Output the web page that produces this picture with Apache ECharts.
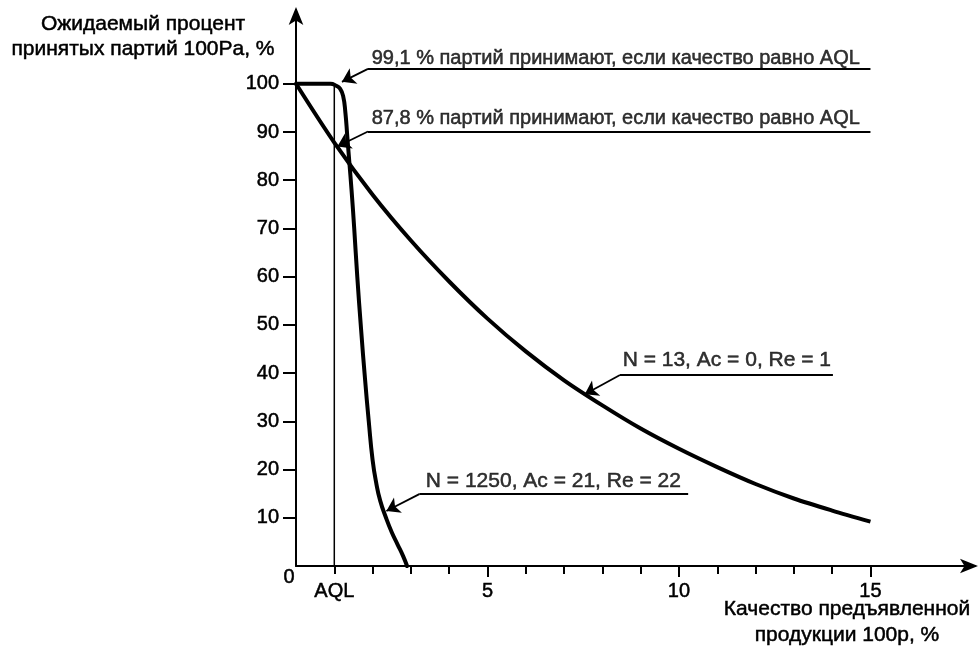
<!DOCTYPE html>
<html>
<head>
<meta charset="utf-8">
<script src="https://cdn.jsdelivr.net/npm/echarts@6/dist/echarts.min.js"></script>
<style>html,body{margin:0;padding:0;background:#fff}#c{width:979px;height:651px}</style>
</head>
<body>
<div id="c"></div>
<script>
// ---- data ----
const curve13X = [0, 1, 2, 3, 4, 5, 6, 7, 8, 9, 10, 11, 12, 13, 14, 15];
const curve13Y = [100, 87.8, 77, 67.5, 59, 51.3, 44.5, 38.5, 33.3, 28.5, 24.3, 20.5, 17, 14, 11.5, 9.2];
const curve1250X = [0, 0.9, 1.05, 1.15, 1.23, 1.29, 1.34, 1.39, 1.45, 1.52, 1.6, 1.7, 1.8, 1.9, 2.0, 2.1, 2.2, 2.35, 2.5, 2.65, 2.8, 2.9];
const curve1250Y = [100, 100, 99.6, 99, 97.5, 94, 89, 84, 78, 70, 60, 49, 39, 30, 22, 17, 13.5, 10, 7, 4.5, 2, 0];
const aqlValue = 1;
const xMajorTicks = [5, 10, 15];
const xMinorTicks = [1, 2, 3, 4, 6, 7, 8, 9, 11, 12, 13, 14];
const xLabelValues = [1, 5, 10, 15];
const yTickValues = [10, 20, 30, 40, 50, 60, 70, 80, 90, 100];
const annotTexts = [
  '99,1 % партий принимают, если качество равно AQL',
  '87,8 % партий принимают, если качество равно AQL',
  'N = 13, Ac = 0, Re = 1',
  'N = 1250, Ac = 21, Re = 22'
];
// leader lines in data units: horizontal part [right end, knee], then pointer [knee, arrow tip]
const annotRight = [[15.0, 103.1], [15.0, 90.1], [14.02, 39.6], [10.24, 14.9]];
const annotKnee = [[1.88, 103.1], [1.88, 90.1], [8.46, 39.6], [3.22, 14.9]];
const annotTip = [[1.2, 100.4], [1.08, 87.0], [7.54, 35.6], [2.36, 11.4]];
const annotTextPos = [[8.35, 105.3], [8.35, 92.9], [11.25, 42.7], [6.72, 17.6]];
const yTitle = 'Ожидаемый процент\nпринятых партий 100Pa, %';
const xTitle = 'Качество предъявленной\nпродукции 100р, %';

const FONT = 'Liberation Sans, Arial, Helvetica, sans-serif';
const INK = '#000';
const HEAVY = {textBorderColor: '#000', textBorderWidth: 0.5};

const chart = echarts.init(document.getElementById('c'), null, {renderer: 'canvas'});
const zip = (xs, ys) => xs.map((x, i) => [x, ys[i]]);

const option = {
  backgroundColor: '#fff',
  animation: false,
  grid: {left: 296, right: 4, top: 10, bottom: 85, containLabel: false},
  xAxis: [{
    type: 'value', min: 0, max: 17.73, position: 'bottom',
    splitLine: {show: false},
    axisLine: {show: true, lineStyle: {color: INK, width: 2}, symbol: ['none', 'arrow'], symbolSize: [11, 18], symbolOffset: [0, 3]},
    axisTick: {show: true, customValues: xMajorTicks, length: 11, inside: false, lineStyle: {color: INK, width: 2}},
    axisLabel: Object.assign({show: true, customValues: xLabelValues, margin: 15, fontSize: 20, fontFamily: FONT, color: INK,
      formatter: v => (v === aqlValue ? 'AQL' : String(v))}, HEAVY)
  }, {
    type: 'value', min: 0, max: 17.73, position: 'bottom',
    splitLine: {show: false},
    axisLine: {show: false},
    axisTick: {show: true, customValues: xMinorTicks, length: 8, inside: false, lineStyle: {color: INK, width: 2}},
    axisLabel: {show: false}
  }],
  yAxis: [{
    type: 'value', min: 0, max: 115.3,
    splitLine: {show: false},
    axisLine: {show: true, lineStyle: {color: INK, width: 2}, symbol: ['none', 'arrow'], symbolSize: [11, 18], symbolOffset: [0, 3]},
    axisTick: {show: true, customValues: yTickValues, length: 13, lineStyle: {color: INK, width: 2}},
    axisLabel: Object.assign({show: true, customValues: yTickValues, margin: 17, fontSize: 20, fontFamily: FONT, color: INK}, HEAVY)
  }],
  series: [
    {
      name: 'AQL', type: 'line', data: [[aqlValue, 0], [aqlValue, 100]], symbol: 'none',
      lineStyle: {color: INK, width: 1.5}, z: 1
    },
    {
      name: 'N13', type: 'line', data: zip(curve13X, curve13Y), smooth: 0.3, symbol: 'none',
      lineStyle: {color: INK, width: 4}, z: 3
    },
    {
      name: 'N1250', type: 'line', data: zip(curve1250X, curve1250Y), smooth: 0.5, symbol: 'none',
      lineStyle: {color: INK, width: 4, join: 'round', cap: 'round'}, z: 3
    },
    {
      name: 'leaderH', type: 'lines', coordinateSystem: 'cartesian2d',
      symbol: ['none', 'none'],
      lineStyle: {color: INK, width: 1.8, opacity: 1, curveness: 0},
      data: annotRight.map((p, i) => ({coords: [p, annotKnee[i]]})), z: 4
    },
    {
      name: 'leaderArrow', type: 'lines', coordinateSystem: 'cartesian2d',
      symbol: ['none', 'arrow'], symbolSize: [8, 13],
      lineStyle: {color: INK, width: 1.8, opacity: 1, curveness: 0},
      data: annotKnee.map((p, i) => ({coords: [p, annotTip[i]]})), z: 4
    },
    {
      name: 'annotTexts', type: 'scatter', symbolSize: 0, silent: true,
      data: annotTextPos.map((p, i) => ({
        value: [p[0], p[1]], name: annotTexts[i],
        label: {fontSize: i < 2 ? 20 : 21}
      })),
      label: Object.assign({show: true, position: [0, 0], align: 'center', verticalAlign: 'middle',
        formatter: p => p.name, fontSize: 20, fontFamily: FONT, color: INK}, HEAVY),
      z: 5
    }
  ]
};
chart.setOption(option);

const o = chart.convertToPixel({xAxisIndex: 0, yAxisIndex: 0}, [0, 0]);
chart.setOption({
  graphic: [
    {type: 'text', x: 143, y: 37, style: {text: yTitle, font: '21px ' + FONT, fill: INK, align: 'center', verticalAlign: 'middle', lineHeight: 25, stroke: '#000', lineWidth: 0.5}},
    {type: 'text', x: 847, y: 622, style: {text: xTitle, font: '21px ' + FONT, fill: INK, align: 'center', verticalAlign: 'middle', lineHeight: 26, stroke: '#000', lineWidth: 0.5}},
    {type: 'text', x: o[0] - 7, y: o[1] + 11, style: {text: '0', font: '20px ' + FONT, fill: INK, align: 'center', verticalAlign: 'middle', stroke: '#000', lineWidth: 0.5}}
  ]
});
</script>
</body>
</html>
